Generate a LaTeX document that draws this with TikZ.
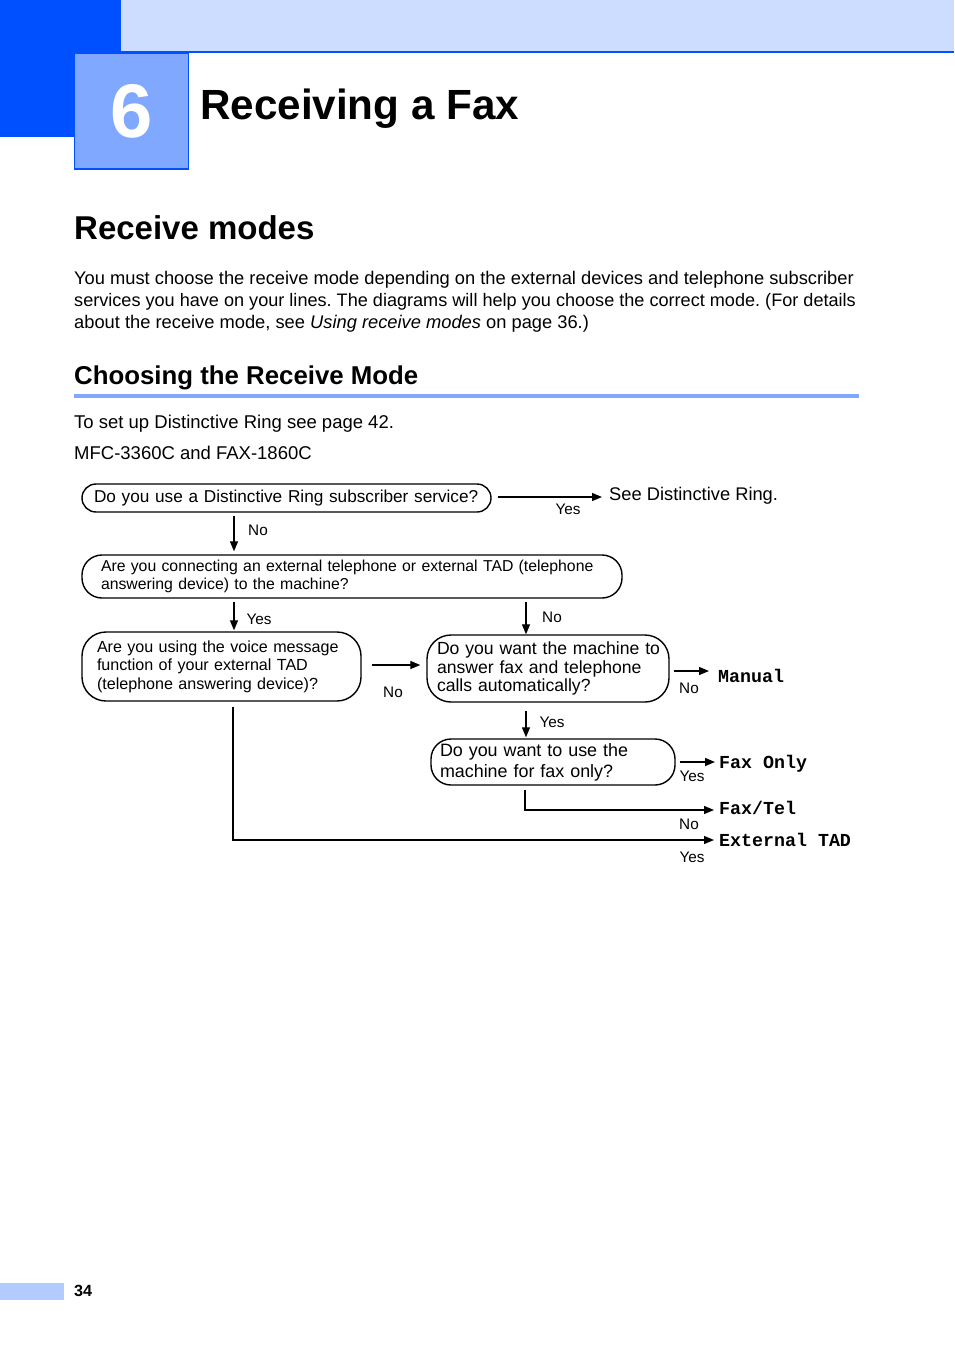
\documentclass[tikz,border=0pt]{standalone}
\usepackage{fontspec}
\setmainfont{Liberation Sans}
\setmonofont{Liberation Mono}
\usetikzlibrary{arrows.meta}
\definecolor{dkblue}{RGB}{0,80,255}
\definecolor{band}{RGB}{204,221,255}
\definecolor{sqblue}{RGB}{128,168,255}
\definecolor{pgblue}{RGB}{179,204,255}
\newcommand{\fsz}[2]{\fontsize{#1}{#2}\selectfont}
\frenchspacing
\begin{document}
\begin{tikzpicture}[x=1pt,y=-1pt,
  qbox/.style={draw, line width=1.4pt, align=left, inner ysep=0pt},
  arr/.style={line width=1.3pt, -{Triangle[length=10pt,width=8pt]}},
  lbl/.style={font=\fsz{15.3}{18}, inner sep=0pt},
  outc/.style={font=\ttfamily\bfseries\fsz{18.3}{20}, anchor=west, inner sep=0pt},
  body/.style={font=\fsz{18.3}{22}, anchor=base west, inner sep=0pt}]
\useasboundingbox (0,0) rectangle (954,1348);
\fill[white] (0,0) rectangle (954,1348);
% header
\fill[dkblue] (0,0) rectangle (121,137);
\fill[band] (121,0) rectangle (954,52);
\draw[dkblue, line width=2pt] (121,52) -- (954,52);
\filldraw[fill=sqblue, draw=dkblue, line width=1.5pt] (74.5,53) rectangle (188.5,169);
\node[white, anchor=base, inner sep=0pt, font=\bfseries\fsz{76}{76}] (num) at (131.5,138) {6};
\node[anchor=base west, inner sep=0pt, font=\bfseries\fsz{42.2}{46}] (title) at (200,120) {Receiving a Fax};
% headings and body
\node[anchor=base west, inner sep=0pt, font=\bfseries\fsz{33}{36}] (h1) at (74,240) {Receive modes};
\node[body] (p1) at (74,284) {You must choose the receive mode depending on the external devices and telephone subscriber};
\node[body, font=\fsz{18.1}{22}] (p2) at (74,306) {services you have on your lines. The diagrams will help you choose the correct mode. (For details};
\node[body] (p3) at (74,328) {about the receive mode, see \textit{Using receive modes} on page 36.)};
\node[anchor=base west, inner sep=0pt, font=\bfseries\fsz{25.8}{28}] (h2) at (74,384) {Choosing the Receive Mode};
\fill[sqblue] (74,394) rectangle (859,397.5);
\node[body, font=\fsz{18.5}{22}] (p4) at (74,428) {To set up Distinctive Ring see page 42.};
\node[body, font=\fsz{18.5}{22}] (p5) at (74,459) {MFC-3360C and FAX-1860C};
% flowchart boxes
\node[qbox, rounded corners=14pt, minimum width=409pt, minimum height=28pt, text width=385pt, inner xsep=12pt, font=\fsz{17.2}{21}] (q1) at (286.5,498)
  {\mbox{Do you use a Distinctive Ring subscriber service?}};
\node[qbox, rounded corners=20pt, minimum width=540pt, minimum height=43pt, text width=502pt, inner xsep=19pt, font=\fsz{15.8}{18}] (q2) at (352,576.5)
  {\mbox{Are you connecting an external telephone or external TAD (telephone}\\\mbox{answering device) to the machine?}};
\node[qbox, rounded corners=24pt, minimum width=279pt, minimum height=69pt, text width=249pt, inner xsep=15pt, font=\fsz{16.1}{18.5}] (q3) at (221.5,666.5)
  {\mbox{Are you using the voice message}\\\mbox{function of your external TAD}\\\mbox{(telephone answering device)?}};
\node[qbox, rounded corners=24pt, minimum width=242pt, minimum height=67pt, text width=222pt, inner xsep=10pt, font=\fsz{17.6}{18.5}] (q4) at (548,668.5)
  {\mbox{Do you want the machine to}\\\mbox{answer fax and telephone}\\\mbox{calls automatically?}};
\node[qbox, rounded corners=20pt, minimum width=244pt, minimum height=46pt, text width=226pt, inner xsep=9pt, font=\fsz{17.9}{21}] (q5) at (553,762)
  {\mbox{Do you want to use the}\\\mbox{machine for fax only?}};
% outcomes
\node[anchor=west, inner sep=0pt, font=\fsz{18.3}{20}] (sdr) at (609,496) {See Distinctive Ring.};
\node[outc] (man) at (718,676) {Manual};
\node[outc] (fo) at (719,764) {Fax Only};
\node[outc] (ft) at (719,808) {Fax/Tel};
\node[outc] (et) at (719,840) {External TAD};
% helper coordinates
\coordinate (c1) at (234,0);
\coordinate (c2) at (526,0);
\coordinate (c3) at (525,0);
\coordinate (c4) at (233,0);
\coordinate (r1) at (0,497);
\coordinate (r3) at (0,665);
\coordinate (r4) at (0,671);
\coordinate (r5) at (0,762);
\coordinate (r6) at (0,810);
\coordinate (r7) at (0,840);
% connectors
\draw[arr, shorten <=6pt, shorten >=7pt] (q1.east |- r1) -- (sdr.west |- r1);
\draw[arr, shorten <=3pt, shorten >=3pt] (q1.south -| c1) -- (q2.north -| c1);
\draw[arr, shorten <=3pt, shorten >=1pt] (q2.south -| c1) -- (q3.north -| c1);
\draw[arr, shorten <=3pt] (q2.south -| c2) -- (q4.north -| c2);
\draw[arr, shorten <=10pt, shorten >=6pt] (q3.east |- r3) -- (q4.west |- r3);
\draw[arr, shorten <=4pt, shorten >=9pt] (q4.east |- r4) -- (man.west |- r4);
\draw[arr, shorten <=8pt, shorten >=1pt] (q4.south -| c2) -- (q5.north -| c2);
\draw[arr, shorten <=4pt, shorten >=4pt] (q5.east |- r5) -- (fo.west |- r5);
\draw[arr, shorten >=5pt] ([yshift=-4pt]q5.south -| c3) |- (ft.west |- r6);
\draw[arr, shorten >=5pt] ([yshift=-5pt]q3.south -| c4) |- (et.west |- r7);
% labels
\node[lbl] (l1) at (568,509) {Yes};
\node[lbl] (l2) at (258,530) {No};
\node[lbl] (l3) at (259,619) {Yes};
\node[lbl] (l4) at (552,617) {No};
\node[lbl] (l5) at (393,692) {No};
\node[lbl] (l6) at (689,688) {No};
\node[lbl] (l7) at (552,722) {Yes};
\node[lbl] (l8) at (692,776) {Yes};
\node[lbl] (l9) at (689,824) {No};
\node[lbl] (l10) at (692,857) {Yes};
% page number
\fill[pgblue] (0,1283) rectangle (64,1300);
\node[anchor=base west, inner sep=0pt, font=\bfseries\fsz{16.2}{18}] (pg) at (74,1296) {34};
\end{tikzpicture}
\end{document}
